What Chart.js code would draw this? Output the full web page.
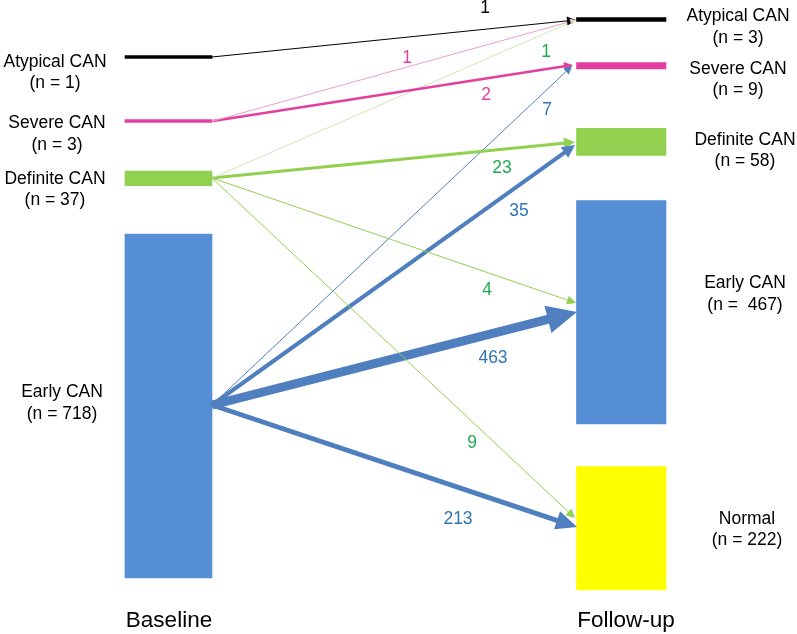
<!DOCTYPE html>
<html><head><meta charset="utf-8">
<script src="https://cdn.jsdelivr.net/npm/chart.js@4/dist/chart.umd.min.js"></script>
<style>html,body{margin:0;padding:0;background:#fff}canvas{display:block}</style>
</head><body>
<canvas id="c" width="797" height="634"></canvas>
<script>
// ---------------- data ----------------
const stages = ['Baseline', 'Follow-up'];
const baselineCategories = ['Atypical CAN', 'Severe CAN', 'Definite CAN', 'Early CAN'];
const baselineCounts = [1, 3, 37, 718];
const followupCategories = ['Atypical CAN', 'Severe CAN', 'Definite CAN', 'Early CAN', 'Normal'];
const followupCounts = [3, 9, 58, 467, 222];
const flowFrom = [0, 1, 1, 2, 2, 2, 2, 3, 3, 3, 3];   // index into baselineCategories
const flowTo   = [0, 0, 1, 0, 2, 3, 4, 1, 2, 3, 4];   // index into followupCategories
const flowCounts = [1, 1, 2, 1, 23, 4, 9, 7, 35, 463, 213];

// ---------------- layout (frame units, 797 x 634) ----------------
const layout = {
  baseX: [125, 212],
  followX: [576.5, 666],
  baseBarY: [[55.5, 58.5], [119.5, 122.5], [171, 185.7], [234, 578]],
  followBarY: [[17.5, 21.5], [62.5, 69], [128.3, 155.3], [200.7, 424], [466.7, 590]],
  baseLabelX: [55, 57, 55, 62],
  baseLabelY: [[66.5, 88.3], [128.3, 149.5], [184.3, 204.7], [397.3, 419]],
  followLabelX: [738, 738, 745, 745, 747],
  followLabelY: [[20.7, 42.7], [74, 95], [145, 165.7], [288.3, 310], [524, 545]],
  followCountPad: ['', '', '', ' ', ''],
  stageX: [169, 626], stageY: 627,
  flowStart: [[212, 57], [213, 121], [212, 178], [212, 405]],
  flowTip: [[576, 20], [576, 20], [573, 65], [576, 20], [575, 142], [576, 303], [575, 518], [572, 66], [575, 145], [577, 312], [577, 527]],
  flowLabel: [[485, 13.3], [407, 62.5], [486, 100], [546, 56.7], [502, 173.3], [487, 295], [472, 448], [547, 115], [519, 215.7], [493, 363.3], [458, 524]]
};

// ---------------- styles ----------------
const nodeColors = ['#000000', '#e23fa0', '#92d050', '#558ed5', '#ffff00'];
const flowColors = ['#000000', '#f09ccc', '#e23fa0', '#cfe6b4', '#92d050', '#92d050', '#92d050', '#4f81bd', '#4f7fbf', '#4f7fbf', '#4f7fbf'];
const flowWidths = [1, 1, 2.5, 1, 3, 1, 1, 1, 4, 9, 5];
const flowHeads = [[9, 4.5], [6, 3], [9, 4.5], [5, 2.5], [11, 5.5], [9, 4.5], [9, 4.5], [8, 4], [13, 6.5], [30, 14], [21, 9.5]];
const labelColors = ['#000000', '#e23fa0', '#e23fa0', '#1faa50', '#1faa50', '#1faa50', '#1faa50', '#2e75b6', '#2e75b6', '#2e75b6', '#2e75b6'];
const FONT = '"Liberation Sans", Arial, Helvetica, sans-serif';

// ---------------- datasets ----------------
const datasets = [];
datasets.push({
  type: 'bar', label: stages[0], grouped: false, order: 2,
  barThickness: layout.baseX[1] - layout.baseX[0],
  data: baselineCounts.map((n, i) => ({ x: (layout.baseX[0] + layout.baseX[1]) / 2, y: layout.baseBarY[i], n })),
  backgroundColor: baselineCounts.map((n, i) => nodeColors[i]),
  borderWidth: 0
});
datasets.push({
  type: 'bar', label: stages[1], grouped: false, order: 2,
  barThickness: layout.followX[1] - layout.followX[0],
  data: followupCounts.map((n, i) => ({ x: (layout.followX[0] + layout.followX[1]) / 2, y: layout.followBarY[i], n })),
  backgroundColor: followupCounts.map((n, i) => nodeColors[i]),
  borderWidth: 0
});
flowCounts.forEach((v, k) => {
  const s = layout.flowStart[flowFrom[k]];
  const t = layout.flowTip[k];
  const dx = t[0] - s[0], dy = t[1] - s[1], len = Math.hypot(dx, dy);
  const back = flowHeads[k][0] * 0.6;
  const e = [t[0] - dx / len * back, t[1] - dy / len * back];
  datasets.push({
    type: 'line', label: baselineCategories[flowFrom[k]] + ' → ' + followupCategories[flowTo[k]] + ': ' + v,
    order: 1,
    data: [{ x: s[0], y: s[1] }, { x: e[0], y: e[1] }],
    borderColor: flowColors[k], borderWidth: flowWidths[k], pointRadius: 0, fill: false, tension: 0,
    borderCapStyle: 'butt',
    arrowFrom: { x: s[0], y: s[1] }, arrowTip: { x: t[0], y: t[1] }, head: flowHeads[k]
  });
});

// ---------------- plugins ----------------
const arrowHeads = {
  id: 'arrowHeads',
  afterDatasetsDraw(chart) {
    const { ctx, scales: { x, y } } = chart;
    ctx.save();
    chart.data.datasets.forEach(ds => {
      if (!ds.arrowTip) return;
      const tx = x.getPixelForValue(ds.arrowTip.x), ty = y.getPixelForValue(ds.arrowTip.y);
      const sx = x.getPixelForValue(ds.arrowFrom.x), sy = y.getPixelForValue(ds.arrowFrom.y);
      const a = Math.atan2(ty - sy, tx - sx);
      const [hl, hw] = ds.head;
      const bx = tx - Math.cos(a) * hl, by = ty - Math.sin(a) * hl;
      ctx.beginPath();
      ctx.moveTo(tx, ty);
      ctx.lineTo(bx + Math.sin(a) * hw, by - Math.cos(a) * hw);
      ctx.lineTo(bx - Math.sin(a) * hw, by + Math.cos(a) * hw);
      ctx.closePath();
      ctx.fillStyle = ds.borderColor;
      ctx.fill();
    });
    ctx.restore();
  }
};

const textLabels = {
  id: 'textLabels',
  afterDraw(chart) {
    const { ctx, scales: { x, y } } = chart;
    ctx.save();
    ctx.textAlign = 'center';
    ctx.textBaseline = 'alphabetic';
    ctx.font = '17.5px ' + FONT;
    ctx.fillStyle = '#000';
    baselineCategories.forEach((c, i) => {
      const px = x.getPixelForValue(layout.baseLabelX[i]);
      ctx.fillText(c, px, y.getPixelForValue(layout.baseLabelY[i][0]));
      ctx.fillText('(n = ' + baselineCounts[i] + ')', px, y.getPixelForValue(layout.baseLabelY[i][1]));
    });
    followupCategories.forEach((c, i) => {
      const px = x.getPixelForValue(layout.followLabelX[i]);
      ctx.fillText(c, px, y.getPixelForValue(layout.followLabelY[i][0]));
      ctx.fillText('(n = ' + layout.followCountPad[i] + followupCounts[i] + ')', px, y.getPixelForValue(layout.followLabelY[i][1]));
    });
    flowCounts.forEach((v, k) => {
      ctx.fillStyle = labelColors[k];
      ctx.fillText(String(v), x.getPixelForValue(layout.flowLabel[k][0]), y.getPixelForValue(layout.flowLabel[k][1]));
    });
    ctx.fillStyle = '#000';
    ctx.font = '22.5px ' + FONT;
    stages.forEach((s, i) => {
      ctx.fillText(s, x.getPixelForValue(layout.stageX[i]), y.getPixelForValue(layout.stageY));
    });
    ctx.restore();
  }
};

new Chart(document.getElementById('c'), {
  type: 'bar',
  data: { datasets },
  options: {
    responsive: false,
    animation: false,
    devicePixelRatio: 1,
    layout: { padding: 0 },
    plugins: { legend: { display: false }, tooltip: { enabled: false } },
    scales: {
      x: { type: 'linear', min: 0, max: 797, offset: false, display: false },
      y: { type: 'linear', min: 0, max: 634, reverse: true, display: false, beginAtZero: false }
    }
  },
  plugins: [arrowHeads, textLabels]
});
</script>
</body></html>
